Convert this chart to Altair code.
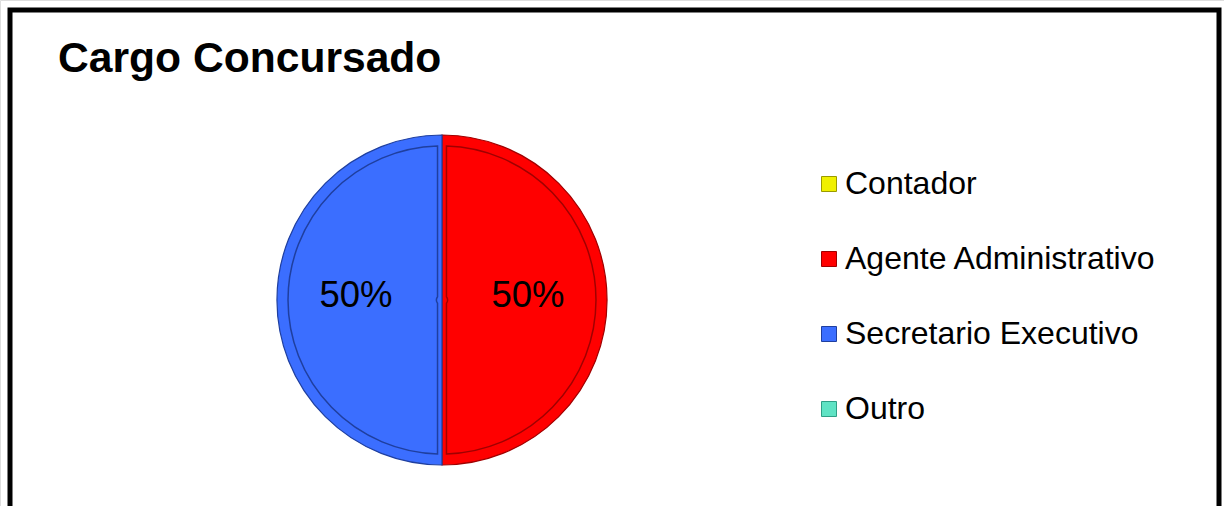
import altair as alt
import pandas as pd

# ---- data ----
categorias = ["Contador", "Agente Administrativo", "Secretario Executivo", "Outro"]
valores = [0, 50, 50, 0]
ordem = [1, 2, 3, 4]
cores = ["#F0F000", "#FF0000", "#3B6EFF", "#5FE3C4"]
cores_borda = ["#9A9A00", "#A00000", "#1F3F9F", "#2F9F86"]
titulo = "Cargo Concursado"

df = pd.DataFrame({"categoria": categorias, "valor": valores, "ordem": ordem})

W, H = 1224, 506
CX, CY, R = 442, 300, 165

color_scale = alt.Scale(domain=categorias, range=cores)
stroke_scale = alt.Scale(domain=categorias, range=cores_borda)

base = alt.Chart(df).transform_filter("datum.valor > 0").encode(
    theta=alt.Theta("valor:Q", stack=True, scale=alt.Scale(domain=[0, 100])),
    order=alt.Order("ordem:Q"),
)

outer = base.mark_arc(outerRadius=R, strokeWidth=1.2).encode(
    x=alt.value(CX), y=alt.value(CY),
    color=alt.Color(
        "categoria:N", scale=color_scale,
        legend=alt.Legend(
            title=None, orient="none", legendX=813, legendY=168,
            symbolType="square", symbolSize=225, symbolStrokeWidth=1,
            symbolStrokeColor="#555555", symbolOpacity=1,
            labelFont="Liberation Sans", labelFontSize=32, labelColor="black",
            labelOffset=0, rowPadding=43, padding=0, labelLimit=400,
        ),
    ),
    stroke=alt.Stroke("categoria:N", scale=stroke_scale, legend=None),
)

inner = base.mark_arc(outerRadius=R - 11, innerRadius=5.5, padAngle=0.058,
                      strokeWidth=1.5).encode(
    x=alt.value(CX), y=alt.value(CY),
    color=alt.Color("categoria:N", scale=color_scale, legend=None),
    stroke=alt.Stroke("categoria:N", scale=stroke_scale, legend=None),
)

labels = base.transform_joinaggregate(total="sum(valor)").transform_calculate(
    pct="datum.valor / datum.total"
).mark_text(radius=86, dy=-4, font="Liberation Sans", fontSize=36.5, color="black").encode(
    x=alt.value(CX), y=alt.value(CY),
    text=alt.Text("pct:Q", format=".0%"),
)

one = pd.DataFrame({"t": [titulo]})
title = alt.Chart(one).mark_text(
    align="left", baseline="alphabetic", font="Liberation Sans",
    fontSize=42.6, fontWeight="bold", color="black",
).encode(x=alt.value(58), y=alt.value(72), text="t:N")

border = alt.Chart(one).mark_rect(filled=False, stroke="black", strokeWidth=5).encode(
    x=alt.value(10), x2=alt.value(1219), y=alt.value(10), y2=alt.value(560)
)

chart = alt.layer(outer, inner, labels, title, border).properties(
    width=W, height=H, padding=0, autosize=alt.AutoSizeParams(type="none")
).configure_view(stroke=None).configure(background="white")

chart.save("out.html", embed_options={"renderer": "svg", "actions": False})
